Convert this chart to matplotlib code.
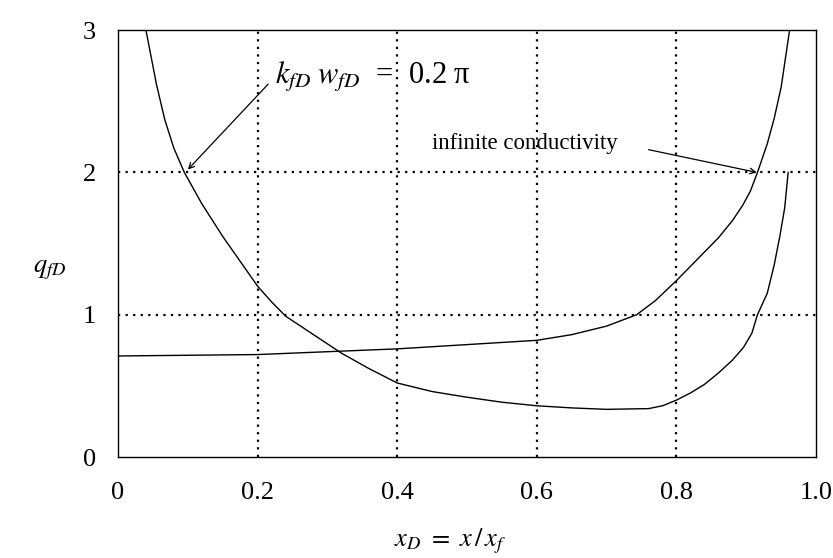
import matplotlib.pyplot as plt

plt.rcParams['font.family'] = ['Liberation Serif', 'DejaVu Serif']
plt.rcParams['mathtext.fontset'] = 'stix'

# finite conductivity curve, kfD*wfD = 0.2 pi
x_finite = [0.04, 0.055, 0.067, 0.08, 0.095, 0.12, 0.15, 0.18, 0.2, 0.22,
            0.24, 0.28, 0.32, 0.36, 0.4, 0.45, 0.5, 0.55, 0.6, 0.65,
            0.7, 0.76, 0.78, 0.8, 0.82, 0.84, 0.86, 0.88, 0.896, 0.908,
            0.916, 0.93, 0.94, 0.948, 0.955, 0.96]
q_finite = [3.0, 2.62, 2.37, 2.17, 2.0, 1.78, 1.55, 1.34, 1.2, 1.09,
            0.99, 0.86, 0.73, 0.62, 0.52, 0.46, 0.42, 0.385, 0.36, 0.345,
            0.335, 0.34, 0.36, 0.40, 0.45, 0.51, 0.59, 0.68, 0.77, 0.87,
            1.0, 1.15, 1.35, 1.55, 1.75, 2.0]

# infinite conductivity curve
x_inf = [0.0, 0.1, 0.2, 0.3, 0.4, 0.5, 0.6, 0.65, 0.7, 0.743,
         0.77, 0.8, 0.834, 0.86, 0.88, 0.895, 0.906, 0.916, 0.93, 0.94,
         0.95, 0.956, 0.962]
q_inf = [0.71, 0.715, 0.72, 0.74, 0.76, 0.79, 0.82, 0.86, 0.92, 1.0,
         1.1, 1.24, 1.41, 1.54, 1.66, 1.77, 1.87, 2.0, 2.2, 2.38,
         2.6, 2.8, 3.0]

xticks = [0, 0.2, 0.4, 0.6, 0.8, 1.0]
xtick_labels = ['0', '0.2', '0.4', '0.6', '0.8', '1.0']
yticks = [0, 1, 2, 3]
ytick_labels = ['0', '1', '2', '3']

fig = plt.figure(figsize=(8.33, 5.58), dpi=100)
ax = fig.add_axes([0.1417, 0.181, 0.838, 0.765])

dot = (0, (1, 2.4))
for gx in [0.2, 0.4, 0.6, 0.8]:
    ax.axvline(gx, color='black', lw=1.6, linestyle=dot)
for gy in [1, 2]:
    ax.axhline(gy, color='black', lw=1.6, linestyle=dot)

ax.plot(x_finite, q_finite, color='black', lw=1.0)
ax.plot(x_inf, q_inf, color='black', lw=1.0)

ax.set_xlim(0, 1.0)
ax.set_ylim(0, 3)
ax.set_xticks(xticks)
ax.set_xticklabels(xtick_labels, fontsize=19)
ax.set_yticks(yticks)
ax.set_yticklabels(ytick_labels, fontsize=19)
ax.tick_params(axis='x', length=0, pad=18)
ax.tick_params(axis='y', length=0, pad=16)
for s in ax.spines.values():
    s.set_linewidth(1.0)

# kfD wfD label and its arrow
ax.text(0.225, 2.67, r'$k_{fD}\;w_{fD}$  =  0.2 π', fontsize=22, va='center', ha='left')
ax.annotate('', xy=(0.1, 2.02), xytext=(0.215, 2.62),
            arrowprops=dict(arrowstyle='->', color='black', lw=0.9,
                            shrinkA=0, shrinkB=0))

# infinite conductivity label and its arrow
ax.text(0.45, 2.2, 'infinite conductivity', fontsize=16.5, va='center', ha='left')
ax.annotate('', xy=(0.915, 2.0), xytext=(0.76, 2.16),
            arrowprops=dict(arrowstyle='->', color='black', lw=0.9,
                            shrinkA=0, shrinkB=0))

fig.text(0.06, 0.515, r'$q_{fD}$', fontsize=19, ha='center', va='center')
fig.text(0.54, 0.03, r'$x_D\ =\ x\,/\,x_f$', fontsize=19, ha='center', va='center')

fig.savefig('out.png', dpi=100)
